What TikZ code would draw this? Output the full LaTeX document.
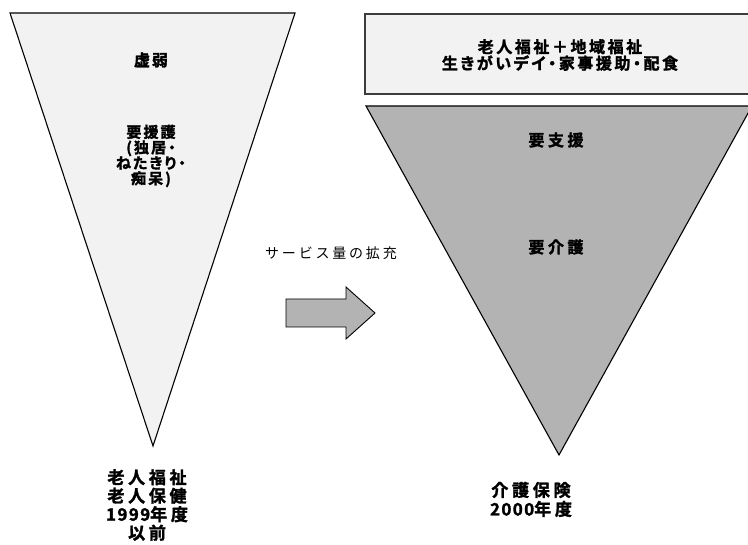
\documentclass[tikz,border=0pt]{standalone}
\usepackage{fontspec}
\newfontfamily\cjk{Noto Sans CJK JP}
\newfontfamily\cjkb[UprightFont={* Bold}, FakeBold=1.8, RawFeature=+palt]{Noto Sans CJK JP}
\definecolor{lightfill}{HTML}{F2F2F2}
\definecolor{darkfill}{HTML}{B3B3B3}
\definecolor{boxline}{HTML}{3C3C3C}
\newcommand{\bfs}[3]{\cjkb\fontsize{#1}{#2}\selectfont\addfontfeatures{LetterSpace=#3}}
\newcommand{\dg}[1]{{\addfontfeatures{LetterSpace=8}#1}}
\tikzset{
  lbl/.style={align=center, inner sep=0pt},
  funnel/.style={draw=black, line width=1.1pt, line join=miter},
}
\begin{document}
\begin{tikzpicture}[x=1pt,y=-1pt]
\useasboundingbox (0,0) rectangle (748,545);
% left funnel
\filldraw[funnel, fill=lightfill] (10,13) -- (295,13) -- (153,446) -- cycle;
% top box
\fill[lightfill] (365,14) rectangle (760,94);
\draw[boxline, line width=1.8pt] (760,14) -- (365,14) -- (365,94) -- (760,94);
% right funnel
\filldraw[funnel, fill=darkfill] (366,106) -- (752,106) -- (559,455) -- cycle;
% arrow
\filldraw[fill=darkfill, draw=black, line width=0.9pt]
  (286,299) -- (346,299) -- (346,287) -- (375,313) -- (346,339) -- (346,327) -- (286,327) -- cycle;
% labels
\node[lbl, font={\bfs{16}{16}{12}}] (weak) at (151,60) {虚弱};
\node[lbl, font={\bfs{15}{15.5}{14}}] (care) at (151,156) {要援護\\(独居・\\ねたきり・\\痴呆)};
\node[lbl, font={\bfs{17}{18.5}{22}}] (old) at (147,505) {老人福祉\\老人保健\\\dg{1999}年度\\以前};
\node[lbl, font={\bfs{16}{16.5}{16}}] (box) at (560,55) {老人福祉＋地域福祉\\生きがいデイ・家事援助・配食};
\node[lbl, font={\bfs{16}{16}{22}}] (sup) at (556,140) {要支援};
\node[lbl, font={\bfs{16}{16}{22}}] (kaigo) at (556,247) {要介護};
\node[lbl, font={\bfs{17}{19}{22}}] (ins) at (531,499.5) {介護保険\\\dg{2000}年度};
\node[lbl, font={\cjk\fontsize{14}{15}\selectfont\addfontfeatures{LetterSpace=20}}] (exp) at (331,253) {サービス量の拡充};
\end{tikzpicture}
\end{document}
